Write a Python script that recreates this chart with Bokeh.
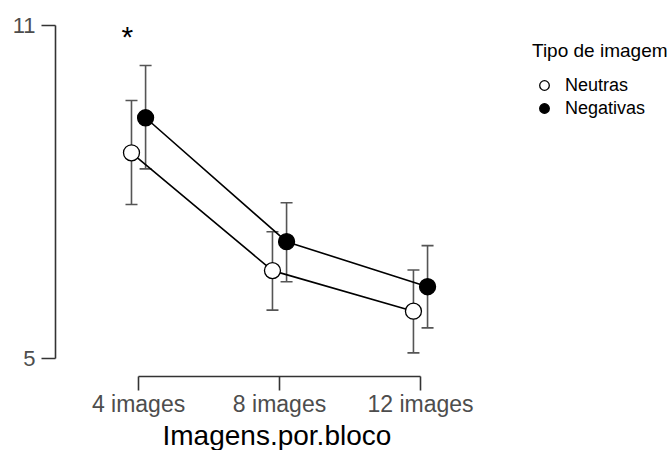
import numpy as np
from bokeh.plotting import figure
from bokeh.models import (ColumnDataSource, Range1d, FixedTicker, Whisker, TeeHead,
                          Legend, LegendItem, Title)
from bokeh.core.properties import value
from bokeh.embed import file_html
from bokeh.resources import INLINE

# ---- data ----
categories = ["4 images", "8 images", "12 images"]
neutras_mean = [8.71, 6.59, 5.86]
neutras_lo = [7.78, 5.88, 5.11]
neutras_hi = [9.65, 7.29, 6.60]
negativas_mean = [9.34, 7.11, 6.30]
negativas_lo = [8.42, 6.39, 5.56]
negativas_hi = [10.28, 7.81, 7.04]
y_ticks = [5, 11]
sig_category = ["4 images"]
sig_y = [10.80]
sig_text = ["*"]
x_title = "Imagens.por.bloco"
legend_title = "Tipo de imagem"
series_names = ["Neutras", "Negativas"]

FONT = "Liberation Sans"
DODGE = 0.05

idx = np.arange(len(categories)) + 1.0

p = figure(width=672, height=450, output_backend="svg", toolbar_location=None,
           x_range=Range1d(0.411, 4.752), y_range=Range1d(4.685, 11.36),
           min_border_left=55, min_border_right=5, min_border_top=5,
           min_border_bottom=74)
p.outline_line_color = None
p.grid.visible = False
p.background_fill_color = "white"
p.border_fill_color = "white"

def make_src(mean, lo, hi, off):
    return ColumnDataSource(dict(x=idx + off, y=mean, lo=lo, hi=hi))

src_neu = make_src(neutras_mean, neutras_lo, neutras_hi, -DODGE)
src_neg = make_src(negativas_mean, negativas_lo, negativas_hi, DODGE)

ERR = "#555555"
for src in (src_neu, src_neg):
    w = Whisker(base="x", lower="lo", upper="hi", source=src, dimension="height",
                line_color=ERR, line_width=1.6,
                upper_head=TeeHead(size=12, line_color=ERR, line_width=1.6),
                lower_head=TeeHead(size=12, line_color=ERR, line_width=1.6))
    p.add_layout(w)

p.line("x", "y", source=src_neu, line_color="black", line_width=1.6)
p.line("x", "y", source=src_neg, line_color="black", line_width=1.6)
r_neu = p.scatter("x", "y", source=src_neu, size=16, fill_color="white",
                  line_color="black", line_width=1.3)
r_neg = p.scatter("x", "y", source=src_neg, size=16, fill_color="black",
                  line_color="black", line_width=1.3)

# significance marker
sig_x = [idx[categories.index(c)] - 0.08 for c in sig_category]
p.text(x=sig_x, y=sig_y, text=sig_text, text_font=value(FONT),
       text_font_size="30px", text_align="center", text_baseline="middle",
       text_color="black")

# axes
xa = p.xaxis[0]
xa.ticker = FixedTicker(ticks=list(idx))
xa.major_label_overrides = {float(i): c for i, c in zip(idx, categories)}
xa.bounds = (idx[0], idx[-1])
xa.major_label_text_font = FONT
xa.major_label_text_font_size = "23px"
xa.major_label_text_color = "#4d4d4d"
xa.major_label_standoff = 0

ya = p.yaxis[0]
ya.ticker = FixedTicker(ticks=y_ticks)
ya.bounds = (y_ticks[0], y_ticks[-1])
ya.major_label_text_font = FONT
ya.major_label_text_font_size = "22px"
ya.major_label_text_color = "#4d4d4d"
ya.major_label_standoff = 6

for ax in (xa, ya):
    ax.axis_line_color = "#333333"
    ax.axis_line_width = 1.6
    ax.major_tick_line_color = "#333333"
    ax.major_tick_line_width = 1.6
    ax.major_tick_in = 0
    ax.major_tick_out = 14
    ax.minor_tick_line_color = None

# x-axis title, placed under the span of the categories
p.add_layout(Title(text=x_title, align="left", offset=107, standoff=-3,
                   text_font=FONT, text_font_size="28px",
                   text_font_style="normal", text_color="black"), "below")

def style_legend(lg):
    lg.title_text_font = FONT
    lg.title_text_font_size = "19px"
    lg.title_text_font_style = "normal"
    lg.title_text_color = "black"
    lg.label_text_font = FONT
    lg.label_text_font_size = "18px"
    lg.label_text_color = "black"
    lg.glyph_width = 24
    lg.glyph_height = 30
    lg.label_standoff = 9
    lg.spacing = 0
    lg.padding = 0
    lg.margin = 0
    lg.title_standoff = 8
    lg.border_line_color = None
    lg.background_fill_alpha = 0

leg1 = Legend(items=[LegendItem(label=series_names[0], renderers=[r_neu])],
              title=legend_title, location=(477, 276))
leg2 = Legend(items=[LegendItem(label=series_names[1], renderers=[r_neg])],
              location=(477, 253))
style_legend(leg1)
style_legend(leg2)
p.add_layout(leg1)
p.add_layout(leg2)

open("out.html", "w").write(file_html(p, INLINE))
